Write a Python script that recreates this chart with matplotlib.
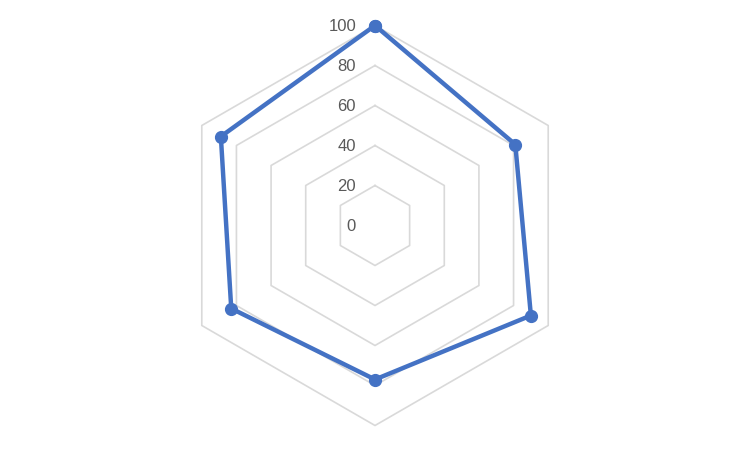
import matplotlib.pyplot as plt
import numpy as np

# Data (category names are not shown on the chart)
categories = ["A", "B", "C", "D", "E", "F"]
values = [100, 81, 90, 77, 83, 89]
grid_levels = [20, 40, 60, 80, 100]
tick_labels = [0, 20, 40, 60, 80, 100]

GRID_COLOR = '#D9D9D9'
LINE_COLOR = '#4472C4'
TEXT_COLOR = '#595959'

# Angles: first category at the top, going clockwise
n = len(categories)
angles = np.pi/2 - 2*np.pi*np.arange(n)/n

def to_xy(r):
    r = np.asarray(r, dtype=float)
    x = r * np.cos(angles)
    y = r * np.sin(angles)
    # close the polygon
    return np.append(x, x[0]), np.append(y, y[0])

px = 1/100
fig = plt.figure(figsize=(750*px, 449*px), dpi=100)
ax = fig.add_axes([0, 0, 1, 1])
ax.axis("off")

# 1 data unit = 2 px, centre at (375, 225.5) px from top-left
ax.set_xlim(-187.5, 187.5)
ax.set_ylim(-223.5/2, 225.5/2)

# Hexagonal gridlines
for level in grid_levels:
    x, y = to_xy([level]*n)
    ax.plot(x, y, color=GRID_COLOR, lw=1.2, zorder=1)

# Radial tick labels
for t in tick_labels:
    ax.text(-9.5, t - 0.5, str(t), ha='right', va='center', color=TEXT_COLOR,
            fontsize=12, family='Liberation Sans')

# Data series
x, y = to_xy(values)
ax.plot(x, y, color=LINE_COLOR, lw=3.2, zorder=3,
        marker='o', markersize=8.5, markerfacecolor=LINE_COLOR,
        markeredgecolor=LINE_COLOR, solid_joinstyle='round')

plt.savefig("out.png", dpi=100)
